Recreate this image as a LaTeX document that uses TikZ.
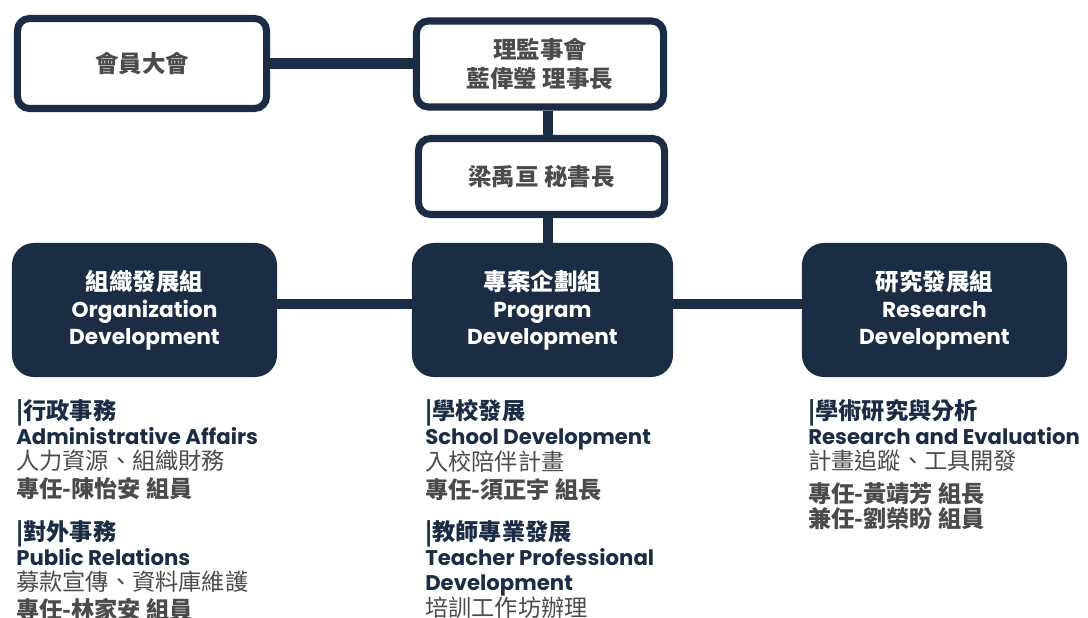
\documentclass[tikz,border=0pt]{standalone}
\usepackage{fontspec}
\setmainfont{Poppins}
\newfontfamily\cjk{Noto Sans CJK TC}
\usetikzlibrary{positioning}
\definecolor{navy}{HTML}{1B2D44}
\definecolor{ink}{HTML}{4B4B4B}
\tikzset{
        whitebox/.style={draw=navy,line width=5pt,rounded corners=0.3cm,fill=white,align=center,
                         text=ink,font=\cjk\bfseries\fontsize{16.7}{21}\selectfont},
        darkbox/.style={fill=navy,rounded corners=0.55cm,minimum width=6.625cm,minimum height=3.35cm,
                        align=center,text=white,font=\bfseries\fontsize{15.4}{19.2}\selectfont},
        link/.style={draw=navy,line width=7.2pt},
        duty/.style={anchor=north west,inner sep=0pt,align=left,text=ink,
                     font=\fontsize{15.1}{18}\selectfont}
        }
\newcommand\hd[1]{{\cjk\bfseries\fontsize{16.5}{18}\selectfont\color{navy}|#1}}
\newcommand\en[1]{{\bfseries\color{navy}#1}}
\newcommand\zh[1]{{\cjk\fontsize{16.5}{18}\selectfont #1}}
\newcommand\staff[1]{{\cjk\bfseries\fontsize{16.5}{18}\selectfont #1}}

\begin{document}
\begin{tikzpicture}[x=0.025cm,y=-0.025cm]
    \useasboundingbox (0,0) rectangle (1088,618);
    % 上層: 會員大會、理監事會、秘書長
    \node[whitebox,minimum width=6.225cm,minimum height=2.25cm] (assembly) at (142,63.5) {會員大會};
    \node[whitebox,minimum width=6.175cm,minimum height=2.15cm] (board) at (540,64) {理監事會\\藍偉瑩 理事長};
    \node[whitebox,minimum width=6.15cm,minimum height=1.9cm] (secretary) at (541.5,176.5) {梁禹亘 秘書長};
    % 三個組
    \node[darkbox] (org) at (144.5,310) {{\cjk\fontsize{16.7}{19.2}\selectfont 組織發展組}\\Organization\\Development};
    \node[darkbox,minimum width=6.525cm] (prog) at (542.5,310) {{\cjk\fontsize{16.7}{19.2}\selectfont 專案企劃組}\\Program\\Development};
    \node[darkbox] (res) at (934.5,310) {{\cjk\fontsize{16.7}{19.2}\selectfont 研究發展組}\\Research\\Development};
    % 連線 (縱線在 spine, 橫線在 beam 的高度)
    \coordinate (spine) at (548,0);
    \coordinate (beam) at (0,304);
    \draw[link] (assembly.east) -- (assembly.east -| board.west);
    \draw[link] (board.south -| spine) -- (secretary.north -| spine);
    \draw[link] (secretary.south -| spine) -- (prog.north -| spine);
    \draw[link] (org.east |- beam) -- (prog.west |- beam);
    \draw[link] (prog.east |- beam) -- (res.west |- beam);
    % 各組工作項目
    \node[duty] (admin) at (16,399) {\hd{行政事務}\\\en{Administrative Affairs}\\\zh{人力資源、組織財務}\\[2pt]\staff{專任-陳怡安 組員}};
    \node[duty] (pr) at (16,520) {\hd{對外事務}\\\en{Public Relations}\\\zh{募款宣傳、資料庫維護}\\[2pt]\staff{專任-林家安 組員}};
    \node[duty] (school) at (425,399) {\hd{學校發展}\\\en{School Development}\\\zh{入校陪伴計畫}\\[2pt]\staff{專任-須正宇 組長}};
    \node[duty] (teacher) at (425,520) {\hd{教師專業發展}\\\en{Teacher Professional}\\\en{Development}\\\zh{培訓工作坊辦理}};
    \node[duty] (eval) at (808,399) {\hd{學術研究與分析}\\\en{Research and Evaluation}\\\zh{計畫追蹤、工具開發}\\[5pt]\staff{專任-黃靖芳 組長}\\\staff{兼任-劉榮盼 組員}};
\end{tikzpicture}
\end{document}
